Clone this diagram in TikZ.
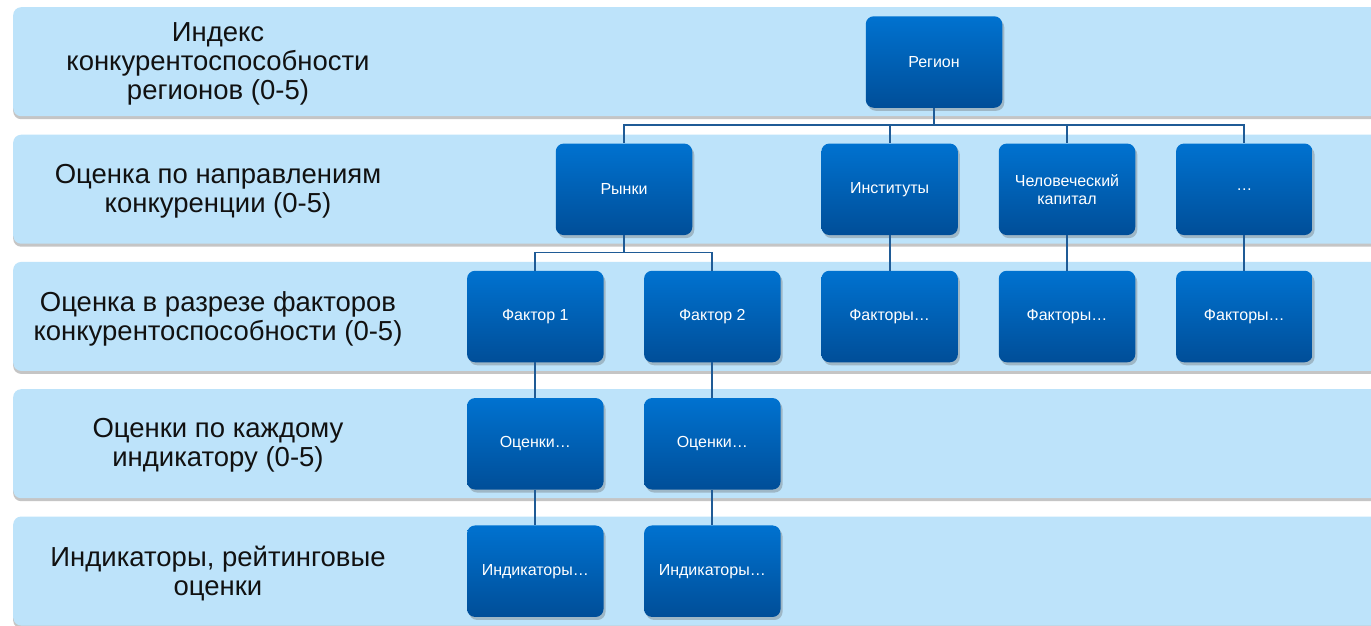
\documentclass[tikz,border=0pt]{standalone}
\usepackage{fontspec}
\setmainfont{Liberation Sans}
\usetikzlibrary{shadows}
\definecolor{bandfill}{HTML}{BDE3FA}
\definecolor{boxtop}{HTML}{0072D0}
\definecolor{boxbot}{HTML}{004E98}
\definecolor{conncol}{HTML}{1F5B96}
\definecolor{labeltext}{HTML}{111111}
\begin{document}
\begin{tikzpicture}[x=1pt,y=-1pt,
  bandbox/.style={fill=bandfill, draw=none, rounded corners=8pt, anchor=north west,
    minimum width=1400pt, minimum height=109pt,
    drop shadow={shadow xshift=0pt, shadow yshift=-3pt, opacity=0.5, fill=black!45}},
  bandlabel/.style={align=center, text=labeltext, font=\fontsize{27.5}{29}\selectfont, inner sep=0pt},
  orgbox/.style={draw=none, rounded corners=8pt, top color=boxtop, bottom color=boxbot,
    minimum width=136.5pt, minimum height=91.5pt, text=white, align=center,
    font=\fontsize{16}{18}\selectfont, inner sep=2pt,
    drop shadow={shadow xshift=2pt, shadow yshift=-3pt, opacity=0.35, fill=black!60}},
  conn/.style={draw=conncol, line width=1.8pt}]
\useasboundingbox (0,0) rectangle (1371,625);
\clip (0,0) rectangle (1371,625);
\fill[white] (0,0) rectangle (1371,625);
% bands
\node[bandbox] (b1) at (13,7) {};
\node[bandbox] (b2) at (13,134.5) {};
\node[bandbox] (b3) at (13,261.7) {};
\node[bandbox] (b4) at (13,389) {};
\node[bandbox] (b5) at (13,516.3) {};
% band labels
\node[bandlabel] (l1) at (218,64) {Индекс\\конкурентоспособности\\регионов (0-5)};
\node[bandlabel] (l2) at (218,191) {Оценка по направлениям\\конкуренции (0-5)};
\node[bandlabel] (l3) at (218,318.5) {Оценка в разрезе факторов\\конкурентоспособности (0-5)};
\node[bandlabel] (l4) at (218,445.5) {Оценки по каждому\\индикатору (0-5)};
\node[bandlabel] (l5) at (218,573.5) {Индикаторы, рейтинговые\\оценки};
% connector bars
\coordinate (bar1) at (0,125.3);
\coordinate (bar2) at (0,252.5);
% boxes
\node[orgbox] (reg) at (934,62) {Регион};
\node[orgbox] (ryn) at (624,189.3) {Рынки};
\node[orgbox] (ins) at (889.6,189.3) {Институты};
\node[orgbox] (hum) at (1067,189.3) {Человеческий\\капитал};
\node[orgbox] (dots) at (1244.3,189.3) {…};
\node[orgbox] (f1) at (535.3,316.5) {Фактор 1};
\node[orgbox] (f2) at (712.3,316.5) {Фактор 2};
\node[orgbox] (f3) at (889.6,316.5) {Факторы…};
\node[orgbox] (f4) at (1067,316.5) {Факторы…};
\node[orgbox] (f5) at (1244.3,316.5) {Факторы…};
\node[orgbox] (o1) at (535.3,443.8) {Оценки…};
\node[orgbox] (o2) at (712.3,443.8) {Оценки…};
\node[orgbox] (i1) at (535.3,571.2) {Индикаторы…};
\node[orgbox] (i2) at (712.3,571.2) {Индикаторы…};
% connectors
\draw[conn] (reg.south) |- (ryn.north |- bar1) -- (ryn.north);
\draw[conn] (reg.south) |- (ins.north |- bar1) -- (ins.north);
\draw[conn] (reg.south) |- (hum.north |- bar1) -- (hum.north);
\draw[conn] (reg.south) |- (dots.north |- bar1) -- (dots.north);
\draw[conn] (ryn.south) |- (f1.north |- bar2) -- (f1.north);
\draw[conn] (ryn.south) |- (f2.north |- bar2) -- (f2.north);
\draw[conn] (ins.south) -- (f3.north);
\draw[conn] (hum.south) -- (f4.north);
\draw[conn] (dots.south) -- (f5.north);
\draw[conn] (f1.south) -- (o1.north);
\draw[conn] (f2.south) -- (o2.north);
\draw[conn] (o1.south) -- (i1.north);
\draw[conn] (o2.south) -- (i2.north);
\end{tikzpicture}
\end{document}
